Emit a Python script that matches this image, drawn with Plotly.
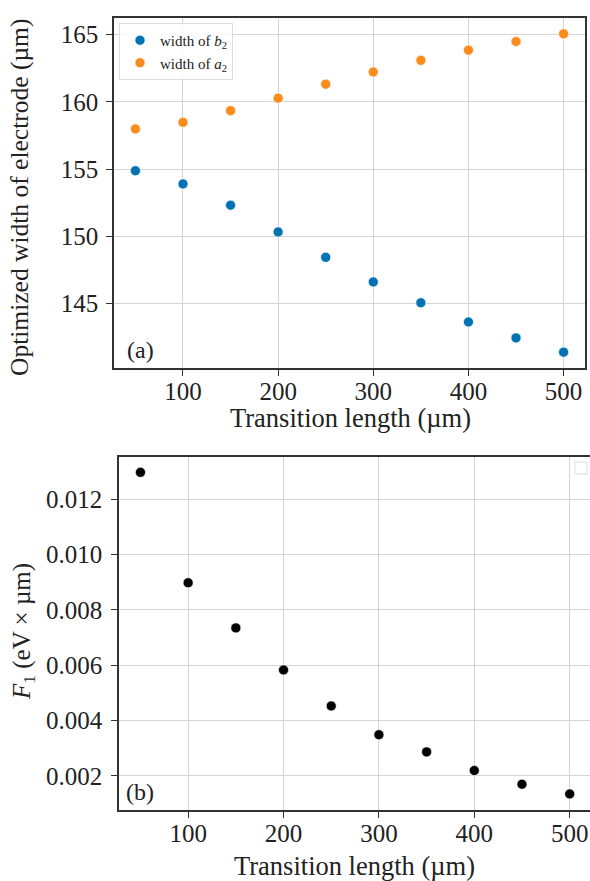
import plotly.graph_objects as go

# ---- data ----
transition_length = [50, 100, 150, 200, 250, 300, 350, 400, 450, 500]
width_b2 = [154.87, 153.89, 152.31, 150.32, 148.43, 146.60, 145.05, 143.62, 142.44, 141.38]
width_a2 = [157.98, 158.47, 159.34, 160.27, 161.31, 162.22, 163.08, 163.84, 164.48, 165.05]
F1 = [0.01297, 0.00898, 0.00735, 0.00583, 0.00453, 0.00349, 0.00287, 0.002195, 0.00170, 0.00135]

xticks = [100, 200, 300, 400, 500]
yticks_a = [145, 150, 155, 160, 165]
yticks_b = [0.002, 0.004, 0.006, 0.008, 0.010, 0.012]
yticklabels_b = ["0.002", "0.004", "0.006", "0.008", "0.010", "0.012"]

W, H = 590, 881
FONT = "Liberation Serif, Times New Roman, serif"
BLUE = "#0173B2"
ORANGE = "#FA8C1E"
GRID = "#d4d4d4"
SPINE = "#333333"

def px_x(p):
    return p / W

def px_y(p):
    return 1 - p / H

fig = go.Figure()

fig.add_trace(go.Scatter(
    x=transition_length, y=width_b2, mode="markers", name="width of <i>b</i><sub>2</sub>",
    marker=dict(color=BLUE, size=10, line=dict(color="white", width=0.6)),
    xaxis="x", yaxis="y"))
fig.add_trace(go.Scatter(
    x=transition_length, y=width_a2, mode="markers", name="width of <i>a</i><sub>2</sub>",
    marker=dict(color=ORANGE, size=10, line=dict(color="white", width=0.6)),
    xaxis="x", yaxis="y"))
fig.add_trace(go.Scatter(
    x=transition_length, y=F1, mode="markers", showlegend=False,
    marker=dict(color="black", size=10, line=dict(color="white", width=0.6)),
    xaxis="x2", yaxis="y2"))

axis_common = dict(
    showgrid=True, gridcolor=GRID, gridwidth=1,
    showline=True, linecolor=SPINE, linewidth=1.5, mirror=True,
    ticks="outside", ticklen=6, tickwidth=1.2, tickcolor=SPINE,
    tickfont=dict(family=FONT, size=25, color="#222"),
    zeroline=False, automargin=False,
)

fig.update_layout(
    width=W, height=H,
    margin=dict(l=0, r=0, t=0, b=0),
    paper_bgcolor="white", plot_bgcolor="white",
    font=dict(family=FONT, color="#222"),
    xaxis=dict(axis_common, ticklabelstandoff=-6, domain=[px_x(114), px_x(585)],
               range=[27.5, 522.5], tickvals=xticks, anchor="y"),
    yaxis=dict(axis_common, ticklabelstandoff=3, domain=[px_y(368), px_y(18)],
               range=[140.2, 166.23], tickvals=yticks_a, anchor="x"),
    xaxis2=dict(axis_common, ticklabelstandoff=-6, domain=[px_x(119), 1.0],
                range=[27.5, 521.3], tickvals=xticks, anchor="y2"),
    yaxis2=dict(axis_common, ticklabelstandoff=4, domain=[px_y(810), px_y(456.7)],
                range=[0.00077, 0.013535], tickvals=yticks_b, ticktext=yticklabels_b,
                anchor="x2"),
    legend=dict(
        x=px_x(119), y=px_y(23), xanchor="left", yanchor="top",
        bgcolor="rgba(255,255,255,0.85)", bordercolor="#dddddd", borderwidth=1,
        font=dict(family=FONT, size=15, color="#222"),
        itemwidth=30, tracegroupgap=0,
    ),
    showlegend=True,
)

annotations = [
    dict(text="Optimized width of electrode (µm)", x=px_x(20), y=px_y(198), textangle=-90,
         font=dict(size=25.5)),
    dict(text="Transition length (µm)", x=px_x(350), y=px_y(418), font=dict(size=26.5)),
    dict(text="<i>F</i><sub>1</sub> (eV × µm)", x=px_x(23), y=px_y(632), textangle=-90,
         font=dict(size=25)),
    dict(text="Transition length (µm)", x=px_x(354), y=px_y(866), font=dict(size=26.5)),
    dict(text="(a)", x=px_x(140), y=px_y(350), font=dict(size=24)),
    dict(text="(b)", x=px_x(140), y=px_y(792), font=dict(size=24)),
]
for a in annotations:
    a.update(xref="paper", yref="paper", showarrow=False, xanchor="center", yanchor="middle")
    a["font"] = dict(family=FONT, color="#222", **a["font"])
fig.update_layout(annotations=annotations)

# empty legend box in panel (b)
fig.add_shape(type="rect", xref="paper", yref="paper",
              x0=px_x(575), x1=px_x(587), y0=px_y(474), y1=px_y(462),
              line=dict(color="#dddddd", width=1), fillcolor="rgba(255,255,255,0.8)")

fig.write_html("out.html")
